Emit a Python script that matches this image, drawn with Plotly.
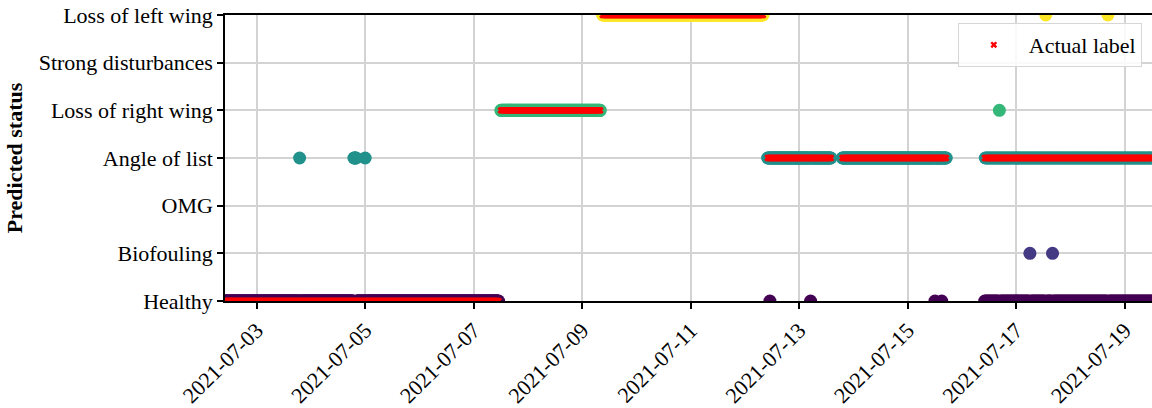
import pandas as pd
import plotly.graph_objects as go

# Status classes (y categories, bottom to top) and their viridis colours
STATUS_LABELS = ["Healthy", "Biofouling", "OMG", "Angle of list",
                 "Loss of right wing", "Strong disturbances", "Loss of left wing"]
STATUS_COLORS = ["#440154", "#443983", "#31688e", "#21918c",
                 "#35b779", "#90d743", "#fde725"]

# Sampling interval of the monitoring record
SAMPLE_FREQ_MIN = 15

# Actual label, stored as runs of consecutive samples
ACTUAL_STATUS = [0, 4, 6, 3, 3, 3]
ACTUAL_START = ["2021-07-02 10:00", "2021-07-07 12:00", "2021-07-09 09:00",
                "2021-07-12 10:00", "2021-07-13 19:00", "2021-07-16 10:00"]
ACTUAL_END = ["2021-07-07 11:00", "2021-07-09 08:00", "2021-07-12 08:00",
              "2021-07-13 14:00", "2021-07-15 17:00", "2021-07-19 12:00"]

# Predicted status, stored as runs; later runs override earlier ones.
# PRED_STEP is the stride in samples (2 = every other sample).
PRED_STATUS = [0, 3, 3, 3, 4, 6, 3, 3, 0, 0, 0, 0, 0, 3, 4, 1, 6, 1, 6]
PRED_START = ["2021-07-02 10:00", "2021-07-03 19:00", "2021-07-04 19:00",
              "2021-07-05 00:00", "2021-07-07 12:00", "2021-07-09 09:00",
              "2021-07-12 10:00", "2021-07-13 19:00", "2021-07-12 11:00",
              "2021-07-13 05:00", "2021-07-15 12:00", "2021-07-15 15:00",
              "2021-07-16 10:00", "2021-07-16 10:15", "2021-07-16 16:30",
              "2021-07-17 06:00", "2021-07-17 13:00", "2021-07-17 16:00",
              "2021-07-18 16:30"]
PRED_END = ["2021-07-07 11:00", "2021-07-03 19:00", "2021-07-04 20:00",
            "2021-07-05 00:00", "2021-07-09 08:00", "2021-07-12 08:00",
            "2021-07-13 14:00", "2021-07-15 17:00", "2021-07-12 11:00",
            "2021-07-13 05:00", "2021-07-15 12:00", "2021-07-15 15:00",
            "2021-07-19 12:00", "2021-07-19 11:45", "2021-07-16 16:30",
            "2021-07-17 06:00", "2021-07-17 13:00", "2021-07-17 16:00",
            "2021-07-18 16:30"]
PRED_STEP = [1, 1, 1, 1, 1, 1, 1, 1, 1, 1, 1, 1, 2, 2, 1, 1, 1, 1, 1]

X_RANGE = ["2021-07-02 10:00", "2021-07-19 12:00"]
X_TICK0 = "2021-07-03"

FONT = "Liberation Serif, Times New Roman, serif"
FONT_SIZE = 22


def expand_runs(statuses, starts, ends, steps=None):
    """Turn run-length records into a time-indexed status series."""
    samples = {}
    for i, (s, a, b) in enumerate(zip(statuses, starts, ends)):
        step = 1 if steps is None else steps[i]
        for ts in pd.date_range(a, b, freq=f"{step * SAMPLE_FREQ_MIN}min"):
            samples[ts] = s
    return pd.Series(samples).sort_index()


actual = expand_runs(ACTUAL_STATUS, ACTUAL_START, ACTUAL_END)
pred = expand_runs(PRED_STATUS, PRED_START, PRED_END, PRED_STEP)

fig = go.Figure()

for k, (label, color) in enumerate(zip(STATUS_LABELS, STATUS_COLORS)):
    sel = pred[pred == k]
    if sel.empty:
        continue
    fig.add_trace(go.Scatter(
        x=sel.index, y=sel.values, mode="markers", name=label,
        marker=dict(size=13, color=color, line=dict(width=0)),
        showlegend=False,
    ))

fig.add_trace(go.Scatter(
    x=actual.index, y=actual.values, mode="markers", name="Actual label",
    marker=dict(symbol="x", size=6, color="red", line=dict(width=0)),
))

fig.update_layout(
    width=1152, height=408,
    margin=dict(l=225, r=0, t=15, b=105),
    paper_bgcolor="white", plot_bgcolor="white",
    font=dict(family=FONT, size=FONT_SIZE, color="black"),
    legend=dict(
        x=0.989, y=0.972, xanchor="right", yanchor="top",
        bgcolor="rgba(255,255,255,0.85)", bordercolor="#d6d6d6", borderwidth=1,
        font=dict(family=FONT, size=FONT_SIZE, color="black"),
        itemwidth=60,
    ),
)

fig.update_xaxes(
    range=X_RANGE, type="date",
    tick0=X_TICK0, dtick=2 * 86400000, tickformat="%Y-%m-%d",
    tickangle=-45, ticks="outside", ticklen=6, tickwidth=1.5, tickcolor="black",
    showline=True, linecolor="black", linewidth=1.5, mirror=True,
    showgrid=True, gridcolor="#d3d3d3", gridwidth=1.5,
    zeroline=False,
    tickfont=dict(family=FONT, size=FONT_SIZE, color="black"),
)

fig.update_yaxes(
    range=[0, 6], tickmode="array",
    tickvals=list(range(len(STATUS_LABELS))), ticktext=STATUS_LABELS,
    ticks="outside", ticklen=6, tickwidth=1.5, tickcolor="black",
    showline=True, linecolor="black", linewidth=1.5,
    showgrid=True, gridcolor="#d3d3d3", gridwidth=1.5,
    zeroline=False,
    tickfont=dict(family=FONT, size=FONT_SIZE, color="black"),
    title=dict(text="<b>Predicted status</b>", standoff=10,
               font=dict(family=FONT, size=FONT_SIZE, color="black")),
)

fig.write_html("out.html")
